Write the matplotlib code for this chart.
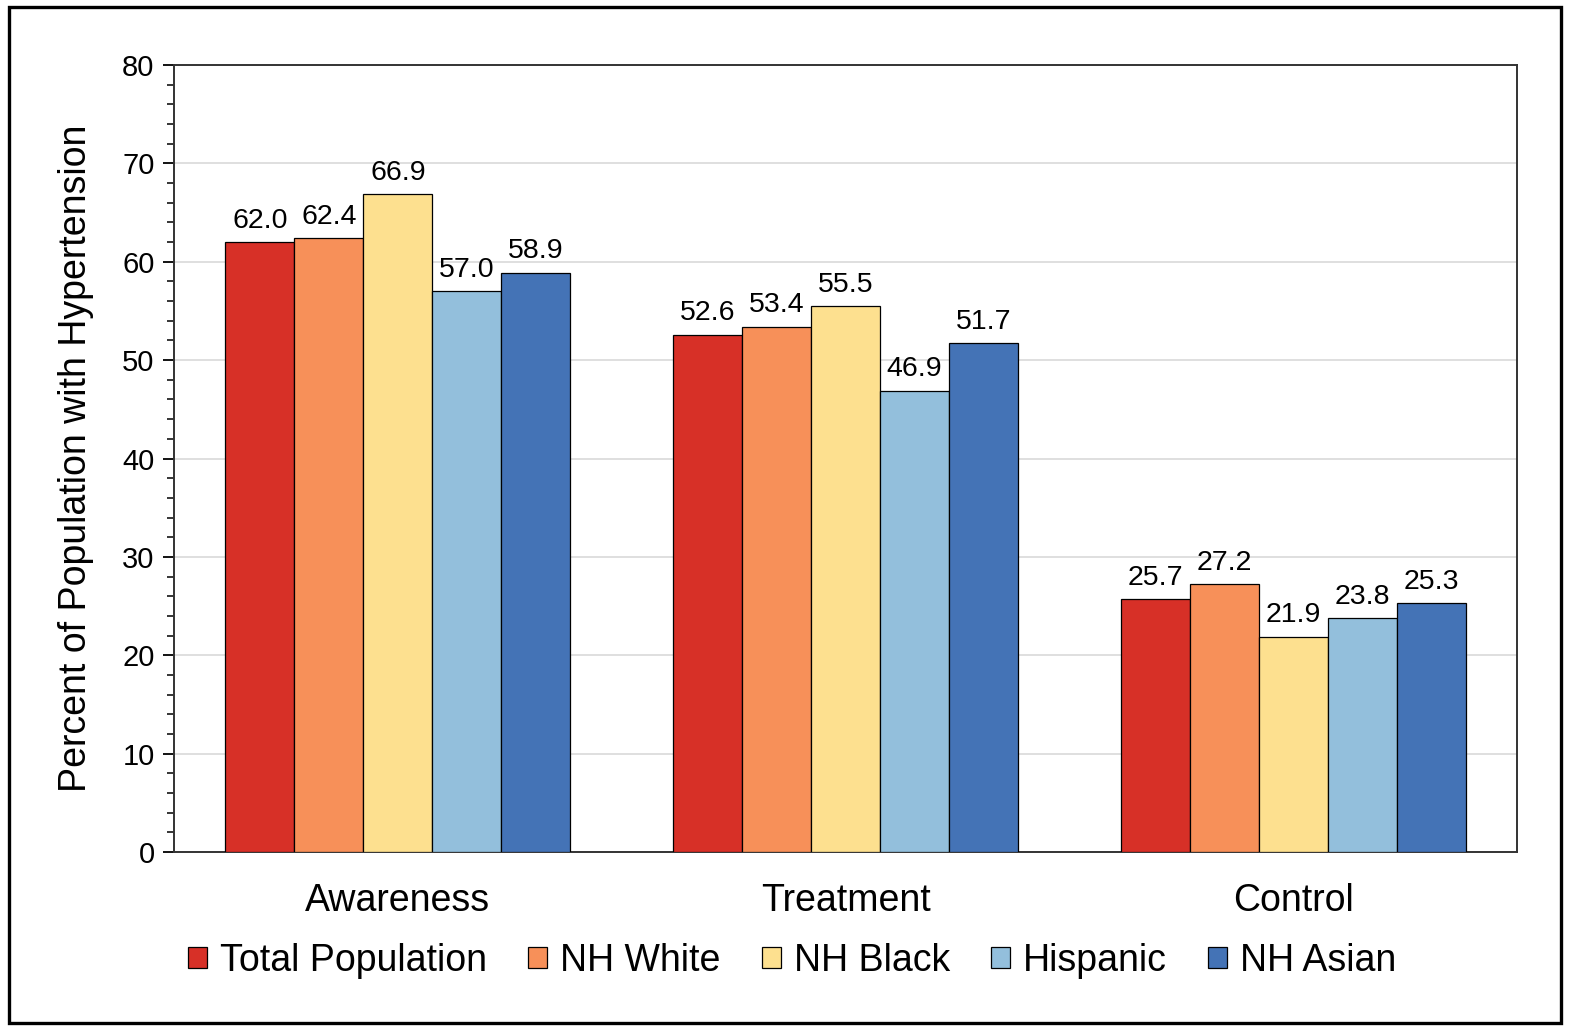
"""
Hypertension awareness / treatment / control by race-ethnicity group
"""
import numpy as np
import matplotlib
matplotlib.use("Agg")
import matplotlib.pyplot as plt
from matplotlib.patches import Rectangle
from matplotlib.ticker import MultipleLocator

plt.rcParams["font.family"] = ["Liberation Sans", "DejaVu Sans"]

# ── data ────────────────────────────────────────────────────────────────
categories = ["Awareness", "Treatment", "Control"]
groups = ["Total Population", "NH White", "NH Black", "Hispanic", "NH Asian"]
total_population = [62.0, 52.6, 25.7]
nh_white = [62.4, 53.4, 27.2]
nh_black = [66.9, 55.5, 21.9]
hispanic = [57.0, 46.9, 23.8]
nh_asian = [58.9, 51.7, 25.3]
colors = ["#d73027", "#f79059", "#fde08f", "#93bfdc", "#4473b6"]

series = [total_population, nh_white, nh_black, hispanic, nh_asian]

fig = plt.figure(figsize=(15.69, 10.32), dpi=100)
ax = fig.add_axes([0.1109, 0.1744, 0.9669 - 0.1109, 0.937 - 0.1744])

x = np.arange(len(categories))
width = 0.154
offsets = (np.arange(len(groups)) - 2) * width

for vals, name, col, off in zip(series, groups, colors, offsets):
    bars = ax.bar(x + off, vals, width, color=col, edgecolor="black",
                  linewidth=0.9, label=name, zorder=3)
    for b, v in zip(bars, vals):
        ax.annotate(f"{v:.1f}", (b.get_x() + b.get_width() / 2, v),
                    xytext=(0, 6), textcoords="offset points",
                    ha="center", va="bottom", fontsize=20.5)

ax.set_xlim(-0.5, 2.5)
ax.set_ylim(0, 80)
ax.yaxis.set_major_locator(MultipleLocator(10))
ax.yaxis.set_minor_locator(MultipleLocator(2))
ax.grid(axis="y", which="major", color="#d9d9d9", linewidth=1.2, zorder=0)
ax.set_axisbelow(True)

ax.set_xticks(x)
ax.set_xticklabels(categories, fontsize=27)
ax.tick_params(axis="x", length=0, pad=22)
ax.tick_params(axis="y", which="major", length=8, width=1.3, labelsize=21, pad=6)
ax.tick_params(axis="y", which="minor", length=5, width=1.1)

for s in ax.spines.values():
    s.set_color("#333333")
    s.set_linewidth(1.4)

ax.set_ylabel("Percent of Population with Hypertension", fontsize=27, labelpad=20)

fig.legend(loc="center", bbox_to_anchor=(0.505, 0.069), ncol=5, frameon=False,
           fontsize=27, handlelength=0.5, handleheight=0.5, handletextpad=0.35,
           columnspacing=1.1, borderaxespad=0)

# outer frame round the whole chart
fig.patches.append(Rectangle((0.0055, 0.0087), 0.9895, 0.9845, transform=fig.transFigure,
                             fill=False, edgecolor="black", linewidth=2.4))

fig.savefig("out.png", dpi=100)
